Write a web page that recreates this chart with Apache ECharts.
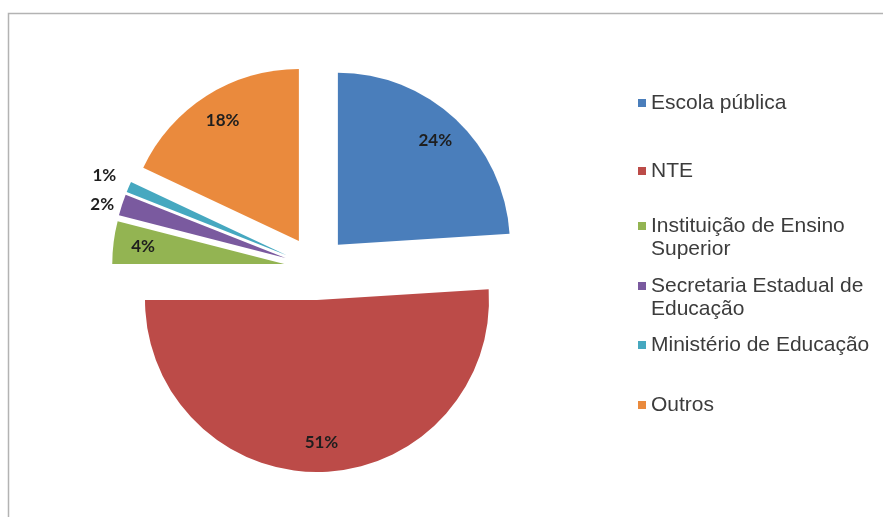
<!DOCTYPE html>
<html>
<head>
<meta charset="utf-8">
<script src="https://cdn.jsdelivr.net/npm/echarts@6/dist/echarts.min.js"></script>
<style>
  html, body { margin: 0; padding: 0; background: #ffffff; }
  #chart { width: 883px; height: 517px; }
</style>
</head>
<body>
<div id="chart"></div>
<script>
// Institutions: shares in percent
const categories = [
  'Escola pública',
  'NTE',
  'Instituição de Ensino Superior',
  'Secretaria Estadual de Educação',
  'Ministério de Educação',
  'Outros'
];
const legendText = [
  'Escola pública',
  'NTE',
  'Instituição de Ensino\nSuperior',
  'Secretaria Estadual de\nEducação',
  'Ministério de Educação',
  'Outros'
];
const shares = [24, 51, 4, 2, 1, 18];
const sliceColors = ['#4a7ebb', '#bc4b48', '#93b452', '#7a5a9f', '#46a8c0', '#ea8a3d'];

// Layout: legend row centres (first text line) and pie geometry
const legendRowCenters = [103, 171, 226, 286, 345, 405];
const legendLineHeight = 23;
const pieCenter = [316, 268];
const pieRadius = 172;
const explode = 32;

const chart = echarts.init(document.getElementById('chart'), null, { renderer: 'canvas' });

const sliceData = categories.map((name, i) => ({
  name: name,
  value: shares[i],
  selected: true,
  itemStyle: { color: sliceColors[i] }
}));

// Transparent ring carrying the percentage labels near the outer rim.
// The thinnest slices put their label outside the rim; the very thinnest
// one uses a longer (hidden) leader so the two labels do not collide.
const labelData = categories.map((name, i) => {
  const small = shares[i] < 3;
  const tiny = shares[i] < 2;
  return {
    name: name,
    value: shares[i],
    selected: true,
    itemStyle: { color: 'rgba(0,0,0,0)' },
    label: small ? { position: 'outside' } : { position: 'inside' },
    labelLine: tiny
      ? { show: false, length: 30, length2: -20 }
      : { show: false, length: 3, length2: 0 }
  };
});

// One legend block per entry; wrapped names keep the marker on the first line
const legends = categories.map((name, i) => {
  const lines = legendText[i].split('\n').length;
  const padded = lines > 1 ? '\n' + legendText[i] : legendText[i];
  const shown = padded.split('\n').length;
  return {
    data: [name],
    orient: 'vertical',
    left: 638,
    top: legendRowCenters[i] - legendLineHeight * shown / 2,
    icon: 'rect',
    itemWidth: 8,
    itemHeight: 8,
    selectedMode: false,
    padding: 0,
    formatter: () => padded,
    textStyle: {
      fontFamily: 'Liberation Sans, Arial, sans-serif',
      fontSize: 21,
      color: '#3c3c3c',
      lineHeight: legendLineHeight
    }
  };
});

const option = {
  backgroundColor: '#ffffff',
  animation: false,
  legend: legends,
  graphic: [{
    type: 'rect',
    z: -10,
    shape: { x: 8.5, y: 13.5, width: 1000, height: 1000 },
    style: { fill: 'none', stroke: '#b3b3b3', lineWidth: 1.5 }
  }],
  series: [
    {
      type: 'pie',
      center: pieCenter,
      radius: pieRadius,
      startAngle: 90,
      clockwise: true,
      selectedMode: 'multiple',
      selectedOffset: explode,
      avoidLabelOverlap: false,
      label: { show: false },
      labelLine: { show: false },
      itemStyle: { borderWidth: 0 },
      emphasis: { disabled: true },
      select: { itemStyle: { borderWidth: 0 } },
      data: sliceData
    },
    {
      type: 'pie',
      center: pieCenter,
      radius: [pieRadius * 0.62, pieRadius],
      startAngle: 90,
      clockwise: true,
      selectedMode: 'multiple',
      selectedOffset: explode,
      avoidLabelOverlap: false,
      minShowLabelAngle: 0,
      labelLayout: { hideOverlap: false },
      silent: true,
      itemStyle: { borderWidth: 0 },
      emphasis: { disabled: true },
      label: {
        show: true,
        formatter: '{c}%',
        fontFamily: 'Lato, sans-serif',
        fontWeight: 'bold',
        fontSize: 17,
        color: '#1e1e1e'
      },
      select: { itemStyle: { borderWidth: 0 }, label: { color: '#1e1e1e' } },
      data: labelData
    }
  ]
};

chart.setOption(option);
</script>
</body>
</html>
